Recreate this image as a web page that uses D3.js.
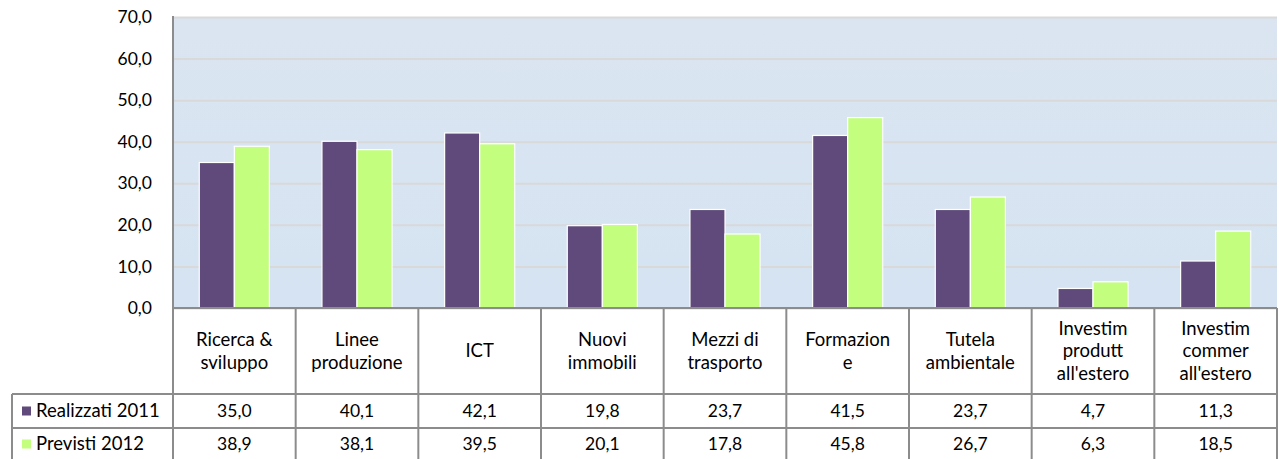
<!DOCTYPE html>
<html>
<head>
<meta charset="utf-8">
<script src="https://cdn.jsdelivr.net/npm/d3@7"></script>
<style>
  body { margin: 0; background: #fff; }
  svg text { font-family: Lato, "Noto Sans", sans-serif; fill: #000; }
</style>
</head>
<body>
<script>
const categories = [
  ["Ricerca &", "sviluppo"],
  ["Linee", "produzione"],
  ["ICT"],
  ["Nuovi", "immobili"],
  ["Mezzi di", "trasporto"],
  ["Formazion", "e"],
  ["Tutela", "ambientale"],
  ["Investim", "produtt", "all'estero"],
  ["Investim", "commer", "all'estero"]
];
const seriesNames = ["Realizzati 2011", "Previsti 2012"];
const realizzati2011 = [35.0, 40.1, 42.1, 19.8, 23.7, 41.5, 23.7, 4.7, 11.3];
const previsti2012 = [38.9, 38.1, 39.5, 20.1, 17.8, 45.8, 26.7, 6.3, 18.5];
const yTicks = [0, 10, 20, 30, 40, 50, 60, 70];

function DrawChart() {
  const width = 1279, height = 459;
  const plot = { left: 173, right: 1277, top: 17, bottom: 308 };
  const rows = { top: 308, r1: 394, r2: 428, bottom: 462 };
  const legendLeft = 12;
  const colors = ["#604a7b", "#c3fe7f"];
  const series = [realizzati2011, previsti2012];
  const textSize = '18.5px', numSize = '17.5px';

  const it = d3.formatLocale({ decimal: ",", thousands: ".", grouping: [3], currency: ["€", ""] });
  const fmt = it.format(".1f");

  const keys = categories.map((c, i) => i);
  const xScale = d3.scaleBand().domain(keys).range([plot.left, plot.right]);
  const xSub = d3.scaleBand().domain([0, 1]).range([0, xScale.bandwidth()]).paddingOuter(0.75);
  const yScale = d3.scaleLinear().domain([0, 70]).range([plot.bottom, plot.top]);

  const svg = d3.select('body').append('svg')
    .attr('width', width).attr('height', height);

  const defs = svg.append('defs');
  const grad = defs.append('linearGradient').attr('id', 'bg')
    .attr('x1', 0).attr('y1', 0).attr('x2', 0).attr('y2', 1);
  grad.append('stop').attr('offset', '0%').attr('stop-color', '#dbe5f1');
  grad.append('stop').attr('offset', '100%').attr('stop-color', '#d5e3f2');

  svg.append('rect')
    .attr('x', plot.left).attr('y', plot.top)
    .attr('width', plot.right - plot.left).attr('height', plot.bottom - plot.top)
    .attr('fill', 'url(#bg)');

  // gridlines + y labels
  const yAxis = d3.axisLeft(yScale).tickValues(yTicks)
    .tickSize(-(plot.right - plot.left)).tickPadding(21).tickFormat(fmt);
  const gy = svg.append('g')
    .attr('transform', `translate(${plot.left},0)`)
    .call(yAxis);
  gy.select('.domain').remove();
  gy.selectAll('.tick line').attr('stroke', '#d9d9d9').attr('stroke-width', 2);
  gy.selectAll('.tick text').style('font-size', numSize).attr('fill', '#000');

  // bars
  const groups = svg.selectAll('g.cat')
    .data(keys).enter().append('g')
    .attr('class', 'cat')
    .attr('transform', (d) => `translate(${xScale(d)},0)`);
  groups.selectAll('rect')
    .data((d) => series.map((s, si) => ({ si: si, v: s[d] })))
    .enter().append('rect')
    .attr('x', (d) => xSub(d.si))
    .attr('y', (d) => yScale(d.v))
    .attr('width', xSub.bandwidth())
    .attr('height', (d) => yScale(0) - yScale(d.v))
    .attr('fill', (d) => colors[d.si])
    .attr('stroke', '#fff')
    .attr('stroke-width', 1.2);

  // table lines
  const lineColor = '#8c8c8c';
  const lines = svg.append('g').attr('stroke', lineColor).attr('stroke-width', 2);
  lines.append('line').attr('x1', plot.left).attr('x2', plot.left).attr('y1', plot.top - 1).attr('y2', rows.bottom);
  lines.append('line').attr('x1', plot.left).attr('x2', plot.right).attr('y1', rows.top).attr('y2', rows.top);
  [rows.r1, rows.r2, rows.bottom].forEach((y) => {
    lines.append('line').attr('x1', legendLeft).attr('x2', plot.right).attr('y1', y).attr('y2', y);
  });
  lines.append('line').attr('x1', legendLeft).attr('x2', legendLeft).attr('y1', rows.r1).attr('y2', rows.bottom);
  keys.forEach((k) => {
    const x = xScale(k) + xScale.bandwidth();
    lines.append('line').attr('x1', x).attr('x2', x).attr('y1', rows.top).attr('y2', rows.bottom);
  });

  // category labels
  const lh = 22.5;
  const catMid = (rows.top + rows.r1) / 2;
  keys.forEach((k) => {
    const lab = categories[k];
    const t = svg.append('text')
      .attr('text-anchor', 'middle')
      .style('font-size', textSize);
    lab.forEach((s, j) => {
      t.append('tspan')
        .attr('x', xScale(k) + xScale.bandwidth() / 2)
        .attr('y', catMid + (j - (lab.length - 1) / 2) * lh)
        .attr('dy', '0.35em')
        .text(s);
    });
  });

  // data rows
  const rowMids = [(rows.r1 + rows.r2) / 2, (rows.r2 + rows.bottom) / 2 - 1];
  series.forEach((s, si) => {
    svg.append('rect')
      .attr('x', 22).attr('y', rowMids[si] - 4.5)
      .attr('width', 9).attr('height', 9)
      .attr('fill', colors[si]);
    svg.append('text')
      .attr('x', 36).attr('y', rowMids[si]).attr('dy', '0.35em')
      .style('font-size', textSize)
      .text(seriesNames[si]);
    svg.selectAll(null)
      .data(keys).enter().append('text')
      .attr('x', (d) => xScale(d) + xScale.bandwidth() / 2)
      .attr('y', rowMids[si]).attr('dy', '0.35em')
      .attr('text-anchor', 'middle')
      .style('font-size', numSize)
      .text((d) => fmt(s[d]));
  });
}

DrawChart();
</script>
</body>
</html>
